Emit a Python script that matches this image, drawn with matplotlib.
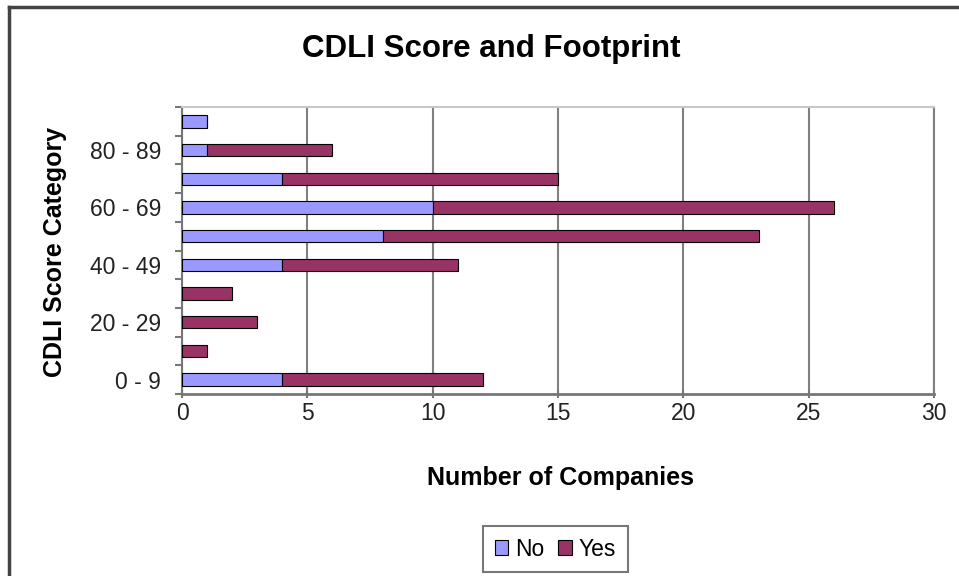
import numpy as np
import matplotlib
matplotlib.use('Agg')
import matplotlib.pyplot as plt
from matplotlib.lines import Line2D

plt.rcParams['font.family'] = ['Liberation Sans', 'DejaVu Sans']

# ---------------- 数据 ----------------
categories = ['0 - 9', '10 - 19', '20 - 29', '30 - 39', '40 - 49',
              '50 - 59', '60 - 69', '70 - 79', '80 - 89', '90 - 99']
no_values = [4, 0, 0, 0, 4, 8, 10, 4, 1, 1]
yes_values = [8, 1, 3, 2, 7, 15, 16, 11, 5, 0]
x_ticks = [0, 5, 10, 15, 20, 25, 30]

# ---------------- 画图 ----------------
fig = plt.figure(figsize=(9.59, 5.76), dpi=100)
ax = fig.add_axes([0.1898, 0.316, 0.7841, 0.4982])

y = np.arange(len(categories))
ax.barh(y, no_values, height=0.43, color='#9999FF', edgecolor='black',
        linewidth=0.8, label='No', zorder=3)
ax.barh(y, yes_values, left=no_values, height=0.43, color='#993366',
        edgecolor='black', linewidth=0.8, label='Yes', zorder=3)

ax.set_xlim(0, 30)
ax.set_ylim(-0.5, len(categories) - 0.5)
ax.set_xticks(x_ticks)
ax.set_xticklabels([str(t) for t in x_ticks], fontsize=16.5, color='#222222')
ax.tick_params(axis='x', length=6, width=1.5, color='#777777',
               direction='inout', pad=3)

# 只显示隔一个的类别标签
ax.set_yticks(y[::2])
ax.set_yticklabels(categories[::2], fontsize=16.5, color='#222222')
ax.tick_params(axis='y', which='major', length=0, pad=15)
ax.set_yticks(np.arange(-0.5, len(categories)), minor=True)
ax.tick_params(axis='y', which='minor', length=5, width=1.5, color='#777777')

ax.grid(axis='x', color='#808080', linewidth=1.5, zorder=0)
ax.spines['top'].set_color('#c8c8c8')
ax.spines['top'].set_linewidth(1.5)
ax.spines['right'].set_color('#808080')
ax.spines['right'].set_linewidth(1.5)
ax.spines['left'].set_color('#777777')
ax.spines['left'].set_linewidth(1.5)
ax.spines['bottom'].set_color('#777777')
ax.spines['bottom'].set_linewidth(2)

ax.set_xlabel('Number of Companies', fontsize=18, fontweight='bold')
ax.xaxis.label.set_va('center')
ax.xaxis.set_label_coords(0.503, -0.293)
ax.set_ylabel('CDLI Score Category', fontsize=18, fontweight='bold')
ax.yaxis.label.set_va('center')
ax.yaxis.set_label_coords(-0.169, 0.495)
fig.text(491.5 / 959, 0.915, 'CDLI Score and Footprint', fontsize=22.5,
         fontweight='bold', ha='center', va='center')

leg = ax.legend(loc='center', bbox_to_anchor=(555.5 / 959, 1 - 549 / 576),
                bbox_transform=fig.transFigure, ncol=2, fontsize=16.5,
                frameon=True, fancybox=False, handlelength=0.6,
                handleheight=0.6, handletextpad=0.3, columnspacing=0.6,
                borderpad=0.5, borderaxespad=0)
leg.get_frame().set_edgecolor('#555555')
leg.get_frame().set_linewidth(1.5)

# 外框
fig.add_artist(Line2D([9 / 959, 9 / 959], [0, 1 - 7 / 576],
                      transform=fig.transFigure, color='#444444', linewidth=2.5))
fig.add_artist(Line2D([9 / 959, 1], [1 - 7 / 576, 1 - 7 / 576],
                      transform=fig.transFigure, color='#444444', linewidth=2.5))

fig.savefig('out.png', dpi=100)
